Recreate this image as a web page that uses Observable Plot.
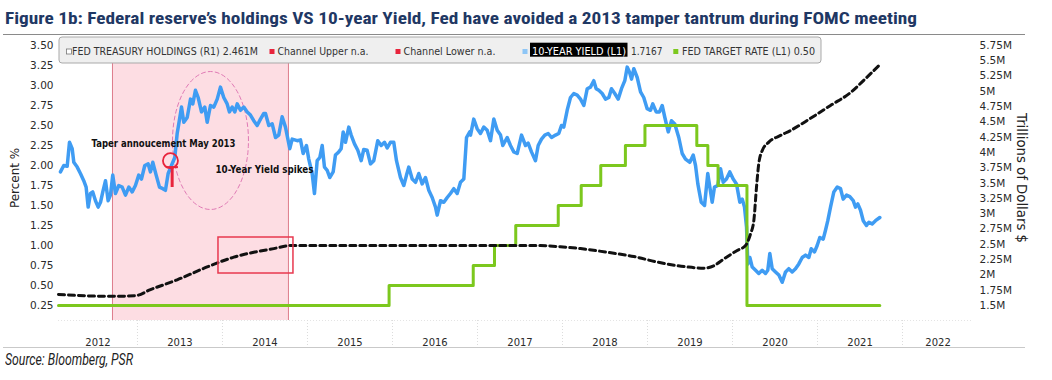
<!DOCTYPE html>
<html><head><meta charset="utf-8">
<script src="https://cdn.jsdelivr.net/npm/d3@7"></script>
<script src="https://cdn.jsdelivr.net/npm/@observablehq/plot@0.6"></script>
<style>
body{margin:0;background:#fff;}
#wrap{position:relative;width:1052px;height:380px;overflow:hidden;background:#fff;}
#chart{position:absolute;left:0;top:0;}
#title{position:absolute;left:5px;top:8px;font-weight:bold;font-size:17px;line-height:20px;font-family:"Liberation Sans Narrow","Roboto Condensed","Roboto",sans-serif;color:#1f3864;white-space:nowrap;transform-origin:0 0;}
#topline{position:absolute;left:3px;width:1022px;top:34px;border-top:1.5px solid #8a8a8a;}
#botline{position:absolute;left:3px;width:1022px;top:347px;border-top:1px solid #c9c9c9;}
#caption{position:absolute;left:5px;top:351px;font-style:italic;font-size:16px;line-height:18px;font-family:"Liberation Sans Narrow","Roboto",sans-serif;color:#222;white-space:nowrap;transform-origin:0 0;}
</style></head>
<body>
<div id="wrap">
<div id="chart"></div>
<div id="topline"></div>
<div id="botline"></div>
<div id="title">Figure 1b: Federal reserve’s holdings VS 10-year Yield, Fed have avoided a 2013 tamper tantrum during FOMC meeting</div>
<div id="caption">Source: Bloomberg, PSR</div>
</div>
<script>
// ---- data (decimal year, value) ----
const yieldSeries = [[2012.094,1.92],[2012.133,2.00],[2012.173,1.99],[2012.200,2.29],[2012.232,2.21],[2012.251,2.04],[2012.291,1.98],[2012.329,1.90],[2012.368,1.81],[2012.396,1.73],[2012.420,1.48],[2012.447,1.65],[2012.474,1.67],[2012.506,1.56],[2012.538,1.48],[2012.565,1.54],[2012.592,1.67],[2012.624,1.81],[2012.655,1.56],[2012.682,1.63],[2012.709,1.88],[2012.741,1.65],[2012.780,1.75],[2012.820,1.73],[2012.859,1.63],[2012.898,1.73],[2012.938,1.67],[2012.976,1.75],[2013.015,1.88],[2013.047,1.83],[2013.086,2.00],[2013.126,2.02],[2013.153,1.92],[2013.180,2.04],[2013.220,1.88],[2013.259,1.73],[2013.298,1.71],[2013.329,1.69],[2013.361,1.90],[2013.400,2.00],[2013.439,2.10],[2013.467,2.40],[2013.486,2.52],[2013.518,2.73],[2013.545,2.54],[2013.585,2.60],[2013.624,2.83],[2013.651,2.77],[2013.682,2.94],[2013.714,2.85],[2013.753,2.67],[2013.792,2.73],[2013.820,2.54],[2013.859,2.75],[2013.898,2.73],[2013.938,2.83],[2013.976,2.98],[2014.015,2.85],[2014.055,2.77],[2014.082,2.67],[2014.114,2.73],[2014.145,2.67],[2014.173,2.77],[2014.212,2.69],[2014.251,2.73],[2014.291,2.67],[2014.329,2.63],[2014.368,2.56],[2014.408,2.50],[2014.447,2.58],[2014.486,2.65],[2014.506,2.65],[2014.545,2.50],[2014.585,2.52],[2014.624,2.35],[2014.662,2.38],[2014.702,2.61],[2014.741,2.48],[2014.792,2.21],[2014.820,2.33],[2014.879,2.31],[2014.918,2.32],[2014.949,2.15],[2014.988,2.25],[2015.015,2.08],[2015.055,1.90],[2015.082,1.65],[2015.114,2.06],[2015.145,2.10],[2015.173,2.25],[2015.200,1.98],[2015.232,1.94],[2015.262,1.85],[2015.302,1.92],[2015.329,2.13],[2015.368,2.17],[2015.396,2.21],[2015.420,2.42],[2015.447,2.29],[2015.486,2.48],[2015.514,2.38],[2015.553,2.27],[2015.592,2.19],[2015.632,2.06],[2015.662,2.20],[2015.702,2.19],[2015.741,2.02],[2015.780,2.06],[2015.827,2.31],[2015.867,2.25],[2015.906,2.29],[2015.938,2.22],[2015.976,2.29],[2016.015,2.29],[2016.047,2.06],[2016.094,1.85],[2016.133,1.75],[2016.165,1.88],[2016.192,1.98],[2016.232,1.83],[2016.271,1.79],[2016.309,1.90],[2016.349,1.77],[2016.388,1.85],[2016.427,1.69],[2016.467,1.60],[2016.506,1.48],[2016.526,1.38],[2016.565,1.56],[2016.604,1.54],[2016.644,1.60],[2016.682,1.65],[2016.721,1.71],[2016.761,1.65],[2016.800,1.79],[2016.839,1.83],[2016.871,2.35],[2016.909,2.42],[2016.918,2.38],[2016.956,2.58],[2016.996,2.46],[2017.035,2.40],[2017.074,2.48],[2017.114,2.44],[2017.153,2.31],[2017.192,2.58],[2017.232,2.44],[2017.271,2.38],[2017.298,2.25],[2017.349,2.35],[2017.388,2.25],[2017.427,2.17],[2017.467,2.15],[2017.518,2.38],[2017.565,2.25],[2017.596,2.28],[2017.635,2.17],[2017.682,2.06],[2017.714,2.25],[2017.753,2.33],[2017.792,2.38],[2017.832,2.40],[2017.871,2.35],[2017.918,2.38],[2017.956,2.40],[2017.988,2.50],[2018.015,2.48],[2018.055,2.69],[2018.094,2.85],[2018.133,2.90],[2018.173,2.88],[2018.212,2.83],[2018.251,2.75],[2018.291,2.96],[2018.329,2.98],[2018.368,3.06],[2018.396,2.96],[2018.427,2.94],[2018.467,2.90],[2018.506,2.83],[2018.545,2.85],[2018.576,2.96],[2018.615,2.90],[2018.655,2.83],[2018.694,2.96],[2018.733,3.06],[2018.761,3.23],[2018.788,3.17],[2018.812,3.08],[2018.839,3.21],[2018.879,3.10],[2018.918,2.92],[2018.956,2.85],[2018.996,2.71],[2019.035,2.69],[2019.062,2.77],[2019.102,2.67],[2019.141,2.67],[2019.173,2.75],[2019.204,2.60],[2019.244,2.42],[2019.282,2.56],[2019.321,2.52],[2019.368,2.35],[2019.408,2.15],[2019.447,2.08],[2019.498,2.04],[2019.538,2.13],[2019.565,2.00],[2019.592,1.77],[2019.632,1.54],[2019.671,1.50],[2019.709,1.90],[2019.733,1.73],[2019.761,1.54],[2019.788,1.73],[2019.827,1.75],[2019.859,1.96],[2019.891,1.79],[2019.929,1.83],[2019.968,1.92],[2020.008,1.83],[2020.047,1.77],[2020.086,1.54],[2020.114,1.58],[2020.141,1.48],[2020.165,1.23],[2020.180,0.77],[2020.204,0.85],[2020.232,0.73],[2020.271,0.69],[2020.309,0.65],[2020.349,0.69],[2020.388,0.65],[2020.415,0.69],[2020.439,0.90],[2020.467,0.71],[2020.506,0.67],[2020.545,0.63],[2020.585,0.54],[2020.624,0.67],[2020.662,0.71],[2020.702,0.67],[2020.741,0.71],[2020.780,0.77],[2020.820,0.85],[2020.859,0.88],[2020.898,0.85],[2020.926,0.96],[2020.965,0.92],[2020.996,1.00],[2021.027,1.10],[2021.067,1.08],[2021.094,1.19],[2021.121,1.31],[2021.153,1.48],[2021.192,1.67],[2021.232,1.73],[2021.271,1.71],[2021.302,1.58],[2021.341,1.63],[2021.380,1.61],[2021.420,1.56],[2021.447,1.48],[2021.474,1.52],[2021.506,1.44],[2021.538,1.31],[2021.576,1.25],[2021.604,1.29],[2021.643,1.27],[2021.682,1.31],[2021.733,1.35]];

// Fed treasury holdings, trillions (right axis, "M")
const holdingsSeries = [[2012.071,1.68],[2012.682,1.65],[2012.976,1.66],[2013.153,1.76],[2013.467,1.92],[2013.820,2.13],[2014.133,2.29],[2014.368,2.37],[2014.604,2.43],[2014.800,2.48],[2017.741,2.48],[2017.976,2.46],[2018.212,2.43],[2018.526,2.37],[2018.839,2.30],[2019.114,2.21],[2019.467,2.13],[2019.662,2.11],[2019.780,2.15],[2019.898,2.26],[2020.055,2.40],[2020.153,2.48],[2020.212,2.67],[2020.251,2.89],[2020.282,3.43],[2020.309,3.82],[2020.349,4.03],[2020.427,4.17],[2020.565,4.28],[2020.682,4.36],[2020.918,4.56],[2021.153,4.77],[2021.388,4.98],[2021.565,5.21],[2021.721,5.42]];

// Fed target rate (upper bound), step changes
const rateYears  = [2012.071,2015.96,2016.95,2017.20,2017.45,2017.95,2018.22,2018.45,2018.74,2018.97,2019.58,2019.71,2019.83,2020.17,2021.733];
const rateValues = [0.25,0.50,0.75,1.00,1.25,1.50,1.75,2.00,2.25,2.50,2.25,2.00,1.75,0.25,0.25];

const leftTicks  = [0.25,0.50,0.75,1.00,1.25,1.50,1.75,2.00,2.25,2.50,2.75,3.00,3.25,3.50];
const rightTicks = [1.5,1.75,2,2.25,2.5,2.75,3,3.25,3.5,3.75,4,4.25,4.5,4.75,5,5.25,5.5,5.75];
const years = [2012,2013,2014,2015,2016,2017,2018,2019,2020,2021,2022];

// annotations
const qe3 = {start: 2012.706, end: 2014.776};
const focusBox = {x1: 2013.953, x2: 2014.835, y1: 0.65, y2: 1.10};
const spikeEllipse = {cx: 2013.859, cy: 2.3125, rx: 0.447, ry: 0.8625};
const taperPin = {t: 2013.388, v: 2.06, barL: 2013.338, barR: 2013.482, barV: 1.98, stemT: 2013.408, stemV: 1.725};
const notes = [
  {t: 2013.306, v: 2.27, text: "Taper annoucement May 2013", len: 144},
  {t: 2014.494, v: 1.95, text: "10-Year Yield spikes", len: 98}
];

// ---- scales helpers ----
const xDomain = [2012.071, 2022.835];
const yDomain = [0.0625, 3.6];
const toPct = m => 0.25 + (m - 1.5) * 3.25 / 4.25;  // right axis (M) -> left axis (%)

const yieldData = yieldSeries.map(([t, v]) => ({t, v}));
const holdData = holdingsSeries.map(([t, m]) => ({t, v: toPct(m)}));
const rateData = rateYears.map((t, i) => ({t, v: rateValues[i]}));
const ellipsePts = d3.range(0, 73).map(i => {
  const a = i / 72 * 2 * Math.PI;
  return {t: spikeEllipse.cx + spikeEllipse.rx * Math.cos(a), v: spikeEllipse.cy + spikeEllipse.ry * Math.sin(a)};
});

const FONT = '"DejaVu Sans", Verdana, sans-serif';

const plot = Plot.plot({
  width: 1052, height: 380,
  marginTop: 37, marginBottom: 60, marginLeft: 58, marginRight: 79,
  style: {fontFamily: FONT, fontSize: "10.5px", color: "#2a2a2a", background: "transparent"},
  x: {domain: xDomain, axis: null},
  y: {domain: yDomain, axis: null},
  marks: [
    Plot.rect([qe3], {x1: "start", x2: "end", fill: "#fddde3"}),
    Plot.ruleX([qe3.start, qe3.end], {stroke: "#de7d8b", strokeWidth: 1}),
    Plot.ruleY([yDomain[0]], {stroke: "#e4e4e4", strokeDasharray: "1,2"}),
    Plot.ruleX(years.slice(1), {y1: yDomain[0], y2: -0.25, stroke: "#dcdcdc", strokeDasharray: "1,2"}),
    Plot.axisY(leftTicks, {anchor: "left", tickSize: 0, tickPadding: 5, tickFormat: d => d.toFixed(2), label: null, fontSize: "10.5px"}),
    Plot.text(rightTicks, {x: xDomain[1], y: d => toPct(d), text: d => d + "M", textAnchor: "start", dx: 6, fill: "#2a2a2a"}),
    Plot.text(years, {x: d => (Math.max(d, xDomain[0]) + Math.min(d + 1, xDomain[1])) / 2, y: -0.21, text: d => String(d), fill: "#2a2a2a", fontSize: "10px"}),
    Plot.line(ellipsePts, {x: "t", y: "v", stroke: "#e07ab5", strokeWidth: 1, strokeDasharray: "4,3"}),
    Plot.line(yieldData, {x: "t", y: "v", stroke: "#3f9cf3", strokeWidth: 3.5, strokeLinejoin: "round"}),
    Plot.line(rateData, {x: "t", y: "v", stroke: "#7cc81e", strokeWidth: 3, curve: "step-after"}),
    Plot.line(holdData, {x: "t", y: "v", stroke: "#111", strokeWidth: 3, strokeDasharray: "6,4", curve: "monotone-x"}),
    Plot.rect([focusBox], {x1: "x1", x2: "x2", y1: "y1", y2: "y2", fill: "none", stroke: "#e8384f", strokeWidth: 1.5}),
    Plot.dot([taperPin], {x: "t", y: "v", r: 7.5, stroke: "#e8243c", strokeWidth: 1.8, fill: "none"}),
    Plot.ruleY([taperPin], {y: "barV", x1: "barL", x2: "barR", stroke: "#e8243c", strokeWidth: 2}),
    Plot.ruleX([taperPin], {x: "stemT", y1: "barV", y2: "stemV", stroke: "#e8243c", strokeWidth: 3}),
    Plot.text(notes, {x: "t", y: "v", text: "text", fontWeight: "bold", fontSize: "10px", fill: "#111", fontFamily: '"DejaVu Sans", sans-serif'})
  ]
});
document.getElementById("chart").appendChild(plot);

const svg = d3.select(plot);
// fit annotation text widths
svg.selectAll("text").each(function() {
  const n = notes.find(d => d.text === this.textContent);
  if (n) { this.setAttribute("textLength", n.len); this.setAttribute("lengthAdjust", "spacingAndGlyphs"); }
});

// axis titles
svg.append("text").attr("transform", "translate(15,178) rotate(-90)").attr("text-anchor", "middle")
  .attr("dominant-baseline", "middle").attr("font-size", 13).attr("font-family", FONT).attr("fill", "#222")
  .attr("textLength", 60).attr("lengthAdjust", "spacingAndGlyphs").text("Percent %");
svg.append("text").attr("transform", "translate(1021,178) rotate(90)").attr("text-anchor", "middle")
  .attr("dominant-baseline", "middle").attr("font-size", 14).attr("font-family", FONT).attr("fill", "#222")
  .attr("textLength", 130).attr("lengthAdjust", "spacingAndGlyphs").text("Trillions of Dollars $");

// legend box (Bloomberg style)
const lg = svg.append("g").attr("font-family", FONT).attr("font-size", 10).attr("text-anchor", "start");
lg.append("rect").attr("x", 59).attr("y", 37).attr("width", 762).attr("height", 26).attr("rx", 3)
  .attr("fill", "#efefef").attr("stroke", "#a9a9a9");
const legendItems = [
  {sq: 66.5, sqFill: "#fff", sqStroke: "#777", x: 72, len: 186, text: "FED TREASURY HOLDINGS (R1) 2.461M"},
  {sq: 269.5, sqFill: "#e8243c", x: 277.5, len: 91, text: "Channel Upper n.a."},
  {sq: 395.5, sqFill: "#e8243c", x: 403.5, len: 92, text: "Channel Lower n.a."},
  {sq: 522.5, sqFill: "#8ec6f6", x: 532, len: 94, text: "10-YEAR YIELD (L1)", hl: true},
  {sq: null, x: 631, len: 31.5, text: "1.7167"},
  {sq: 673.3, sqFill: "#7cc81e", x: 682, len: 133, text: "FED TARGET RATE (L1) 0.50"}
];
legendItems.forEach(d => {
  if (d.sq !== null) {
    lg.append("rect").attr("x", d.sq).attr("y", 49).attr("width", 5).attr("height", 5)
      .attr("fill", d.sqFill).attr("stroke", d.sqStroke || "none").attr("stroke-width", 0.8);
  }
  if (d.hl) lg.append("rect").attr("x", 530).attr("y", 42.7).attr("width", 97.5).attr("height", 14).attr("fill", "#000");
  lg.append("text").attr("x", d.x).attr("y", 54.7).attr("text-anchor", "start").attr("fill", d.hl ? "#fff" : "#333")
    .attr("textLength", d.len).attr("lengthAdjust", "spacingAndGlyphs").text(d.text);
});

// fit title & caption widths
function fit(id, w) {
  const el = document.getElementById(id);
  const r = el.getBoundingClientRect().width;
  el.style.transform = `scaleX(${w / r})`;
}
fit("title", 912);
fit("caption", 128);
</script>
</body></html>
